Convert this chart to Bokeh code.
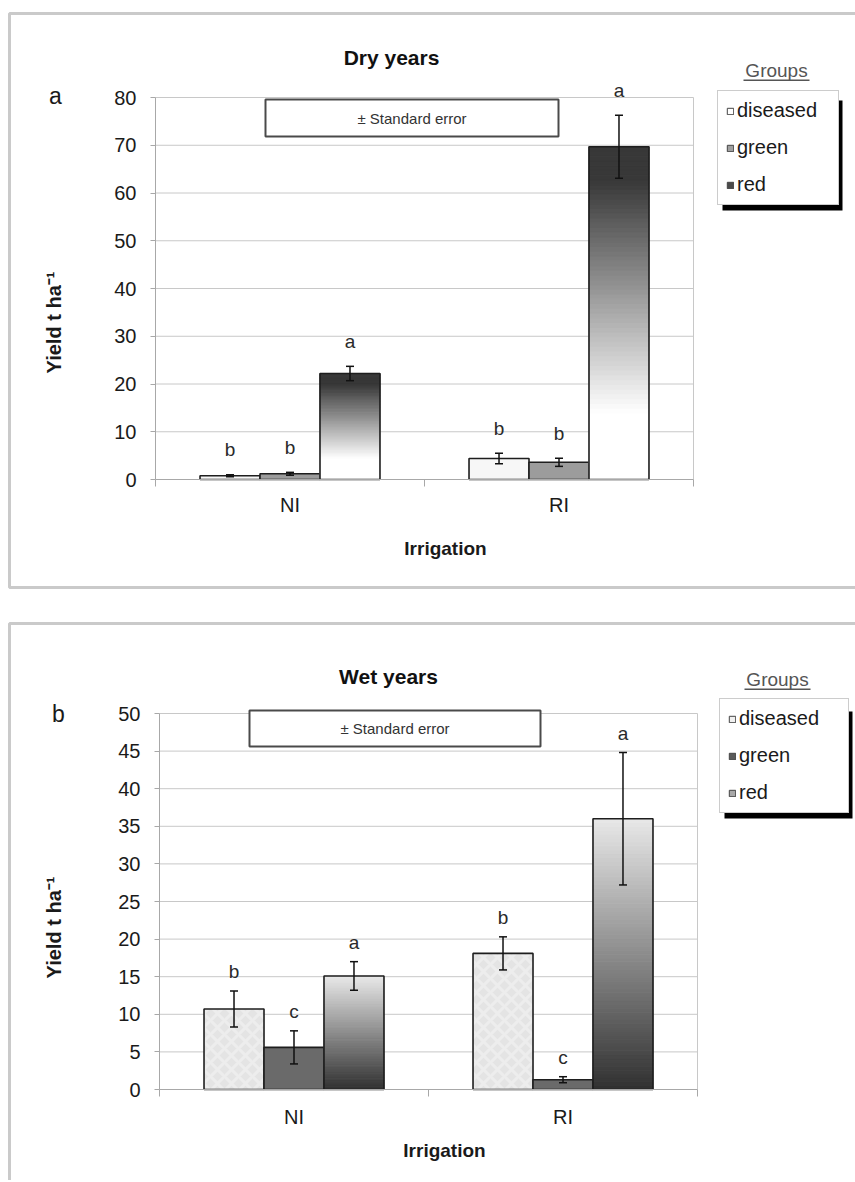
import math
from bokeh.plotting import figure
from bokeh.models import (ColumnDataSource, Range1d, FixedTicker, Legend, LegendItem,
                          Label, LabelSet, BoxAnnotation, Whisker, TeeHead, LinearAxis)
from bokeh.core.properties import value
from bokeh.layouts import column
from bokeh.embed import file_html
from bokeh.resources import INLINE

# ---------------- data ----------------
irrigation = ["NI", "RI"]
groups = ["diseased", "green", "red"]

dry_diseased = [0.8, 4.4]
dry_green = [1.2, 3.6]
dry_red = [22.2, 69.7]
dry_diseased_se = [0.2, 1.1]
dry_green_se = [0.3, 0.85]
dry_red_se = [1.5, 6.6]
dry_letters_diseased = ["b", "b"]
dry_letters_green = ["b", "b"]
dry_letters_red = ["a", "a"]

wet_diseased = [10.7, 18.1]
wet_green = [5.6, 1.3]
wet_red = [15.1, 36.0]
wet_diseased_se = [2.4, 2.2]
wet_green_se = [2.2, 0.4]
wet_red_se = [1.9, 8.8]
wet_letters_diseased = ["b", "b"]
wet_letters_green = ["c", "c"]
wet_letters_red = ["a", "a"]

dry_ticks = [0, 10, 20, 30, 40, 50, 60, 70, 80]
wet_ticks = [0, 5, 10, 15, 20, 25, 30, 35, 40, 45, 50]

FONT = "Liberation Sans"
W = 855
BW = 0.223  # bar width in category units


def hexgray(g):
    g = max(0, min(255, int(round(g))))
    return "#%02x%02x%02x" % (g, g, g)


def dry_shade(f):
    if f < 0.1:
        return 0x38
    if f > 0.8:
        return 0xff
    return 0x38 + (0xff - 0x38) * (f - 0.1) / 0.7


def wet_shade(f):
    return 0xe8 + (0x30 - 0xe8) * f


def make_panel(H, fr, ymax, ticks, series, ses, letters, fills, hatches,
               red_shade, legend_fills, letter_off, title, tag, lay):
    # fr = (x of category-axis start px, x of end px, y of zero px, y of ymax px) in canvas px
    x0px, x2px, y0px, ytpx = fr
    ppx = (x2px - x0px) / 2.0
    ppy = (y0px - ytpx) / float(ymax)
    p = figure(width=W, height=H,
               x_range=Range1d(-x0px / ppx, (W - x0px) / ppx),
               y_range=Range1d(-(H - y0px) / ppy, y0px / ppy),
               output_backend="svg", toolbar_location=None, x_axis_type=None, y_axis_type=None,
               min_border_left=0, min_border_right=0, min_border_top=0, min_border_bottom=0)
    p.min_border = 0
    p.background_fill_color = "white"
    p.border_fill_color = "white"
    p.outline_line_color = None
    p.grid.visible = False

    def cy(py):  # canvas y (from top) -> screen units from bottom
        return H - py

    # panel outline box
    bl, bt, bb = lay["box"]
    p.add_layout(BoxAnnotation(left=bl, right=W + 40, top=cy(bt), bottom=cy(bb),
                               left_units="screen", right_units="screen", top_units="screen",
                               bottom_units="screen", fill_alpha=0, line_color="#cacaca",
                               line_alpha=1, line_width=3, level="underlay"))

    # grid lines and plot-area edge
    p.segment(x0=0, x1=2, y0=ticks[1:], y1=ticks[1:], line_color="#c8c8c8", line_width=1)
    p.segment(x0=[2], x1=[2], y0=[0], y1=[ymax], line_color="#c8c8c8", line_width=1)

    # axes
    ya = LinearAxis(fixed_location=0, bounds=(0, ymax))
    ya.ticker = FixedTicker(ticks=ticks)
    ya.axis_line_color = "#a8a8a8"
    ya.major_tick_line_color = "#a8a8a8"
    ya.major_tick_out = 5
    ya.major_tick_in = 0
    ya.minor_tick_line_color = None
    ya.major_label_standoff = 14
    ya.major_label_text_font = FONT
    ya.major_label_text_font_size = "20px"
    ya.major_label_text_color = "#1a1a1a"
    p.add_layout(ya, "left")

    xa = LinearAxis(fixed_location=0, bounds=(0, 2))
    xa.ticker = FixedTicker(ticks=[0.5, 1.5], minor_ticks=[0, 1, 2])
    xa.major_label_overrides = {0.5: irrigation[0], 1.5: irrigation[1]}
    xa.axis_line_color = "#a8a8a8"
    xa.major_tick_line_color = None
    xa.major_tick_out = 0
    xa.major_tick_in = 0
    xa.minor_tick_line_color = "#a8a8a8"
    xa.minor_tick_out = 7
    xa.minor_tick_in = 0
    xa.major_label_standoff = lay["xstand"]
    xa.major_label_text_font = FONT
    xa.major_label_text_font_size = "20px"
    xa.major_label_text_color = "#1a1a1a"
    p.add_layout(xa, "below")

    # bars
    offsets = [-BW, 0.0, BW]
    for gi, (vals, se, lets) in enumerate(zip(series, ses, letters)):
        xs = [i + 0.5 + offsets[gi] for i in range(len(irrigation))]
        if gi == 2:
            n = 70
            L, R, B, T, C = [], [], [], [], []
            for x, v in zip(xs, vals):
                for k in range(n):
                    f = 1 - (k + 0.5) / n
                    L.append(x - BW / 2)
                    R.append(x + BW / 2)
                    B.append(v * k / n)
                    T.append(v * (k + 1) / n)
                    C.append(hexgray(red_shade(f)))
            p.quad(left=L, right=R, bottom=B, top=T, fill_color=C, line_color=C, line_width=1)
            p.vbar(x=xs, top=vals, width=BW, fill_alpha=0, line_color="#1e1e1e", line_width=1.6)
        else:
            kw = {}
            if hatches[gi]:
                kw = dict(hatch_pattern=hatches[gi], hatch_color="white", hatch_alpha=0.35,
                          hatch_scale=14, hatch_weight=3)
            p.vbar(x=xs, top=vals, width=BW, fill_color=fills[gi], line_color="#1e1e1e",
                   line_width=1.6, **kw)
        src = ColumnDataSource(dict(x=xs, upper=[v + s for v, s in zip(vals, se)],
                                    lower=[v - s for v, s in zip(vals, se)], text=lets))
        wh = Whisker(base="x", upper="upper", lower="lower", source=src, dimension="height",
                     line_color="#111111", line_width=1.5, level="annotation",
                     upper_head=TeeHead(size=8, line_color="#111111", line_width=1.5),
                     lower_head=TeeHead(size=8, line_color="#111111", line_width=1.5))
        p.add_layout(wh)
        ls = LabelSet(x="x", y="upper", text="text", source=src, y_offset=letter_off,
                      text_align="center", text_baseline="middle", text_font=value(FONT),
                      text_font_size="19px", text_color="#2a2a2a")
        p.add_layout(ls)

    # title, tag, y label, x label
    tx, ty = lay["title"]
    p.add_layout(Label(x=tx, y=cy(ty), x_units="screen", y_units="screen",
                       text=title, text_font=FONT, text_font_size="21px", text_font_style="bold",
                       text_align="center", text_baseline="middle", text_color="#111111"))
    gx_, gy_ = lay["tag"]
    p.add_layout(Label(x=gx_, y=cy(gy_), x_units="screen", y_units="screen",
                       text=tag, text_font=FONT, text_font_size="23px",
                       text_align="center", text_baseline="middle", text_color="#1a1a1a"))
    lx, ly = lay["ylab"]
    p.add_layout(Label(x=lx, y=cy(ly), x_units="screen", y_units="screen",
                       text="Yield t ha\u207b\u00b9", angle=math.pi / 2, text_font=FONT,
                       text_font_size="20px", text_font_style="bold",
                       text_align="center", text_baseline="middle", text_color="#1a1a1a"))
    ix, iy = lay["xlab"]
    p.add_layout(Label(x=ix, y=cy(iy), x_units="screen", y_units="screen",
                       text="Irrigation", text_font=FONT, text_font_size="19px",
                       text_font_style="bold", text_align="center", text_baseline="middle",
                       text_color="#1a1a1a"))

    # standard error box
    sl, sr, st, sb = lay["se_box"]
    p.add_layout(BoxAnnotation(left=sl, right=sr, top=cy(st), bottom=cy(sb), left_units="screen",
                               right_units="screen", top_units="screen", bottom_units="screen",
                               fill_color="white", fill_alpha=1, line_color="#4a4a4a",
                               line_alpha=1, line_width=2, level="annotation"))
    p.add_layout(Label(x=(sl + sr) / 2, y=cy((st + sb) / 2), x_units="screen", y_units="screen",
                       text="\u00b1 Standard error", text_font=FONT, text_font_size="15px",
                       text_align="center", text_baseline="middle", text_color="#333333"))

    # legend with shadow
    gl, gt, gw, gh = lay["legend"]
    p.add_layout(BoxAnnotation(left=gl + 5, right=gl + gw + 5, top=cy(gt + 5), bottom=cy(gt + gh + 5),
                               left_units="screen", right_units="screen",
                               top_units="screen", bottom_units="screen", fill_color="black",
                               fill_alpha=1, line_color=None, level="annotation"))
    items = []
    for g, fc in zip(groups, legend_fills):
        # hidden renderer that only supplies the legend swatch style
        r = p.vbar(x=[1], top=[1], width=0.1, fill_color=fc, line_color="#444444", line_width=1)
        r.visible = False
        items.append(LegendItem(label=g, renderers=[r]))
    leg = Legend(items=items, location=(gl, cy(gt + gh)), orientation="vertical",
                 glyph_width=8, glyph_height=8, label_standoff=3, label_height=20,
                 label_width=gw - 27, spacing=14, padding=8, margin=0,
                 label_text_font=FONT, label_text_font_size="20px", label_text_color="#1a1a1a",
                 border_line_color="#9a9a9a", border_line_width=1,
                 background_fill_color="white", background_fill_alpha=1)
    p.add_layout(leg)
    gx, gy = lay["groups"]
    p.add_layout(Label(x=gx, y=cy(gy), x_units="screen", y_units="screen", text="Groups",
                       text_font=FONT, text_font_size="19px", text_align="center",
                       text_baseline="middle", text_color="#555555"))
    p.add_layout(BoxAnnotation(left=gx - 33, right=gx + 33, top=cy(gy + 9), bottom=cy(gy + 10.5),
                               left_units="screen", right_units="screen", top_units="screen",
                               bottom_units="screen", fill_color="#555555", fill_alpha=1,
                               line_color=None, level="annotation"))
    return p


# layout in canvas pixels (x from left, y from top of each figure)
lay_a = dict(box=(9, 13, 587), title=(391, 57), tag=(55, 95), ylab=(53, 322), xlab=(445, 548),
             se_box=(265, 558, 99, 136), legend=(717, 95, 120, 110), groups=(776, 70), xstand=7)
pa = make_panel(614, (155, 693, 479, 97), 80, dry_ticks,
                [dry_diseased, dry_green, dry_red],
                [dry_diseased_se, dry_green_se, dry_red_se],
                [dry_letters_diseased, dry_letters_green, dry_letters_red],
                ["#f7f7f7", "#9c9c9c", None], [None, None, None], dry_shade,
                ["#ffffff", "#a0a0a0", "#4a4a4a"], 25, "Dry years", "a", lay_a)

lay_b = dict(box=(9, 9, 700), title=(388, 62), tag=(58, 99), ylab=(53, 313), xlab=(444, 536),
             se_box=(249, 540, 96, 132), legend=(719, 92, 128, 107), groups=(777, 65), xstand=9)
pb = make_panel(566, (159, 697, 475, 99), 50, wet_ticks,
                [wet_diseased, wet_green, wet_red],
                [wet_diseased_se, wet_green_se, wet_red_se],
                [wet_letters_diseased, wet_letters_green, wet_letters_red],
                ["#e4e4e4", "#6a6a6a", None], ["diagonal_cross", None, None], wet_shade,
                ["#f0f0f0", "#5a5a5a", "#a8a8a8"], 19, "Wet years", "b", lay_b)

layout = column(pa, pb, spacing=0)
open("out.html", "w").write(file_html(layout, INLINE))
